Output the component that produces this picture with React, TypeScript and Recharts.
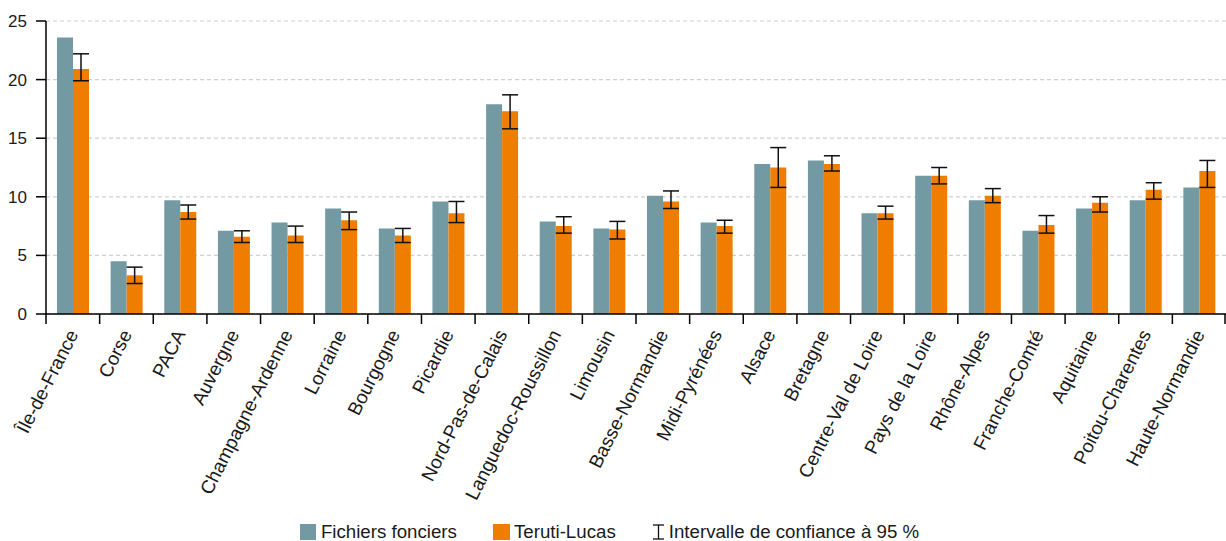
import React from "react";
import {
  BarChart,
  Bar,
  XAxis,
  YAxis,
  CartesianGrid,
  ErrorBar,
  Legend,
} from "recharts";

// Part des surfaces artificialisées par région, deux sources
const REGIONS = [
  "Île-de-France", "Corse", "PACA", "Auvergne", "Champagne-Ardenne", "Lorraine",
  "Bourgogne", "Picardie", "Nord-Pas-de-Calais", "Languedoc-Roussillon", "Limousin",
  "Basse-Normandie", "Midi-Pyrénées", "Alsace", "Bretagne", "Centre-Val de Loire",
  "Pays de la Loire", "Rhône-Alpes", "Franche-Comté", "Aquitaine", "Poitou-Charentes",
  "Haute-Normandie",
];

const FICHIERS = [23.6, 4.5, 9.7, 7.1, 7.8, 9.0, 7.3, 9.6, 17.9, 7.9, 7.3, 10.1, 7.8, 12.8, 13.1, 8.6, 11.8, 9.7, 7.1, 9.0, 9.7, 10.8];
const TERUTI = [20.9, 3.3, 8.7, 6.6, 6.7, 8.0, 6.7, 8.6, 17.3, 7.5, 7.2, 9.6, 7.5, 12.5, 12.8, 8.6, 11.8, 10.1, 7.6, 9.5, 10.6, 12.2];
// bornes de l'intervalle de confiance à 95 % (Teruti-Lucas)
const IC_LOW = [19.9, 2.6, 8.1, 6.1, 6.1, 7.2, 6.1, 7.8, 15.8, 6.9, 6.4, 9.0, 6.9, 10.8, 12.2, 8.1, 11.1, 9.5, 6.9, 8.7, 9.8, 10.8];
const IC_HIGH = [22.2, 4.0, 9.3, 7.1, 7.5, 8.7, 7.3, 9.6, 18.7, 8.3, 7.9, 10.5, 8.0, 14.2, 13.5, 9.2, 12.5, 10.7, 8.4, 10.0, 11.2, 13.1];

const Y_TICKS = [0, 5, 10, 15, 20, 25];

const data = REGIONS.map((region, i) => ({
  region,
  fichiers: FICHIERS[i],
  teruti: TERUTI[i],
  ic: [TERUTI[i] - IC_LOW[i], IC_HIGH[i] - TERUTI[i]],
}));

const WIDTH = 1226;
const HEIGHT = 541;
const Y_AXIS_W = 46;
const STEP = (WIDTH - Y_AXIS_W) / REGIONS.length;

const GREY = "#7399A3";
const ORANGE = "#EF7D00";
const FONT = '"Liberation Sans", Arial, Helvetica, sans-serif';

// eslint-disable-next-line @typescript-eslint/no-explicit-any
function RegionTick({ x, y, payload, index }: any) {
  const left = x - STEP / 2;
  const tx = x + 6;
  const ty = y + 20;
  return (
    <g>
      <line x1={left} y1={y} x2={left} y2={y + 10} stroke="#000" strokeWidth={1.5} />
      {index === REGIONS.length - 1 && (
        <line x1={x + STEP / 2 - 1} y1={y} x2={x + STEP / 2 - 1} y2={y + 10} stroke="#000" strokeWidth={1.5} />
      )}
      <text
        x={tx}
        y={ty}
        transform={`rotate(-63, ${tx}, ${ty})`}
        textAnchor="end"
        fill="#1a1a1a"
        fontSize={19}
        fontFamily={FONT}
      >
        {payload.value}
      </text>
    </g>
  );
}

function LegendContent() {
  const item = { display: "flex", alignItems: "center" } as const;
  return (
    <div
      style={{
        display: "flex",
        justifyContent: "center",
        gap: 36,
        fontFamily: FONT,
        fontSize: 18.7,
        color: "#1a1a1a",
        paddingRight: 7,
      }}
    >
      <div style={item}>
        <span style={{ width: 16, height: 16, background: GREY, marginRight: 5 }} />
        Fichiers fonciers
      </div>
      <div style={item}>
        <span style={{ width: 17, height: 16, background: ORANGE, marginRight: 4 }} />
        Teruti-Lucas
      </div>
      <div style={item}>
        <svg width={13} height={16} style={{ marginRight: 4 }}>
          <line x1={1} y1={1} x2={12} y2={1} stroke="#111" strokeWidth={1.3} />
          <line x1={6.5} y1={1} x2={6.5} y2={15} stroke="#111" strokeWidth={1.3} />
          <line x1={1} y1={15} x2={12} y2={15} stroke="#111" strokeWidth={1.3} />
        </svg>
        Intervalle de confiance à 95 %
      </div>
    </div>
  );
}

export default function App() {
  return (
    <div style={{ position: "absolute", left: 0, top: 0, width: WIDTH, height: HEIGHT, background: "#fff" }}>
      <BarChart
        width={WIDTH}
        height={HEIGHT}
        data={data}
        margin={{ top: 21, right: 0, left: 0, bottom: 0 }}
        barGap={0}
      >
        <CartesianGrid
          vertical={false}
          stroke="#cfcfcf"
          strokeDasharray="4 3"
          strokeWidth={1.2}
        />
        <XAxis
          dataKey="region"
          interval={0}
          tickLine={false}
          tickSize={0}
          tickMargin={0}
          axisLine={{ stroke: "#000", strokeWidth: 1.5 }}
          height={207}
          tick={<RegionTick />}
        />
        <YAxis
          width={Y_AXIS_W}
          domain={[0, 25]}
          ticks={Y_TICKS}
          interval={0}
          tickSize={10}
          tickMargin={9}
          axisLine={{ stroke: "#000", strokeWidth: 1.5 }}
          tickLine={{ stroke: "#000", strokeWidth: 1.5 }}
          tick={{ fill: "#1a1a1a", fontSize: 17, fontFamily: FONT }}
        />
        <Legend verticalAlign="bottom" height={20} content={<LegendContent />} />
        <Bar dataKey="fichiers" name="Fichiers fonciers" fill={GREY} barSize={16} isAnimationActive={false} />
        <Bar dataKey="teruti" name="Teruti-Lucas" fill={ORANGE} barSize={16} isAnimationActive={false}>
          <ErrorBar dataKey="ic" width={8} stroke="#111" strokeWidth={1.5} direction="y" />
        </Bar>
      </BarChart>
    </div>
  );
}
